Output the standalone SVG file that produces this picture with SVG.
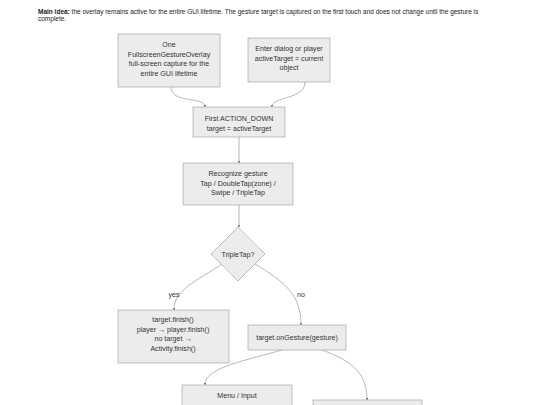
<svg xmlns="http://www.w3.org/2000/svg" width="540" height="405" viewBox="0 0 540 405">
<defs>
<style>
.n rect,.n polygon{fill:#ececec;stroke:#a6a6a6;stroke-width:0.7}
.t{font-family:"Liberation Sans",Arial,sans-serif;font-size:7.1px;fill:#333;text-anchor:middle}
.e{fill:none;stroke:#9a9a9a;stroke-width:0.7}
.hd{font-family:"Liberation Sans",Arial,sans-serif;font-size:6.5px;fill:#222}
.lb{font-family:"Liberation Sans",Arial,sans-serif;font-size:7.1px;fill:#333;text-anchor:middle}
</style>
<marker id="ah" viewBox="0 0 6 6" refX="5" refY="3" markerWidth="4" markerHeight="4" orient="auto">
<path d="M0,0L6,3L0,6z" fill="#777"/>
</marker>
</defs>
<rect width="540" height="405" fill="#ffffff"/>
<text class="hd" x="38" y="14"><tspan font-weight="bold">Main idea:</tspan> the overlay remains active for the entire GUI lifetime. The gesture target is captured on the first touch and does not change until the gesture is</text>
<text class="hd" x="38" y="21">complete.</text>
<g id="edges">
<path class="e" marker-end="url(#ah)" d="M171,87 C171,104 205,96 205,107"/>
<path class="e" marker-end="url(#ah)" d="M305,82 C305,100 272,96 272,107"/>
<path class="e" marker-end="url(#ah)" d="M239,137 L239,163"/>
<path class="e" marker-end="url(#ah)" d="M239,205 L239,227"/>
<path class="e" marker-end="url(#ah)" d="M222,264 C195,282 174,290 174,310"/>
<path class="e" marker-end="url(#ah)" d="M255,264 C285,282 301,295 301,325"/>
<path class="e" marker-end="url(#ah)" d="M282,350 C240,362 205,368 205,385"/>
<path class="e" marker-end="url(#ah)" d="M322,350 C355,362 367,375 367,400"/>
<text class="lb" x="174" y="297">yes</text>
<text class="lb" x="301" y="297">no</text>
</g>
<g id="overlay" class="n"><rect x="118" y="34" width="102" height="53"/>
<text class="t" x="169" y="47">One</text><text class="t" x="169" y="56.5">FullscreenGestureOverlay</text><text class="t" x="169" y="66">full-screen capture for the</text><text class="t" x="169" y="75.5">entire GUI lifetime</text></g>
<g id="enter" class="n"><rect x="248" y="38" width="82" height="44"/>
<text class="t" x="289" y="51">Enter dialog or player</text><text class="t" x="289" y="60.5">activeTarget = current</text><text class="t" x="289" y="70">object</text></g>
<g id="down" class="n"><rect x="193" y="107" width="92" height="30"/>
<text class="t" x="239" y="121">First ACTION_DOWN</text><text class="t" x="239" y="130.5">target = activeTarget</text></g>
<g id="recognize" class="n"><rect x="183" y="163" width="110" height="42"/>
<text class="t" x="238" y="176">Recognize gesture</text><text class="t" x="238" y="185.5">Tap / DoubleTap(zone) /</text><text class="t" x="238" y="195">Swipe / TripleTap</text></g>
<g id="triple" class="n"><polygon points="238,227 265,254 238,281 211,254"/>
<text class="t" x="238" y="256.5">TripleTap?</text></g>
<g id="finish" class="n"><rect x="118" y="310" width="111" height="53"/>
<text class="t" x="173" y="322">target.finish()</text><text class="t" x="173" y="331.5">player → player.finish()</text><text class="t" x="173" y="341">no target →</text><text class="t" x="173" y="350.5">Activity.finish()</text></g>
<g id="ongesture" class="n"><rect x="248" y="325" width="98" height="25"/>
<text class="t" x="297" y="340">target.onGesture(gesture)</text></g>
<g id="menu" class="n"><rect x="182" y="385" width="110" height="30"/>
<text class="t" x="237" y="398">Menu / Input</text></g>
<g id="other" class="n"><rect x="313" y="400" width="109" height="20"/></g>
</svg>
